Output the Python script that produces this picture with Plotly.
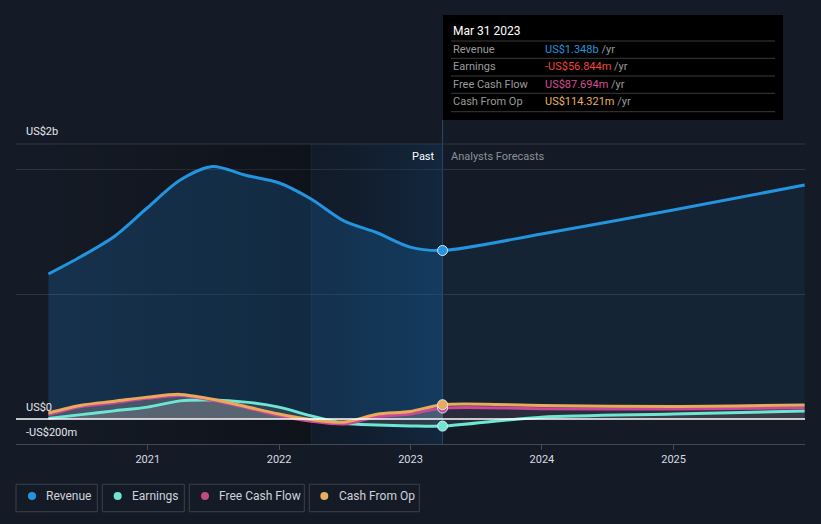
import plotly.graph_objects as go

# ---------------- data ----------------
past_dates = ['2020-03-31', '2020-06-30', '2020-09-30', '2020-12-31',
              '2021-03-31', '2021-06-30', '2021-09-30', '2021-12-31',
              '2022-03-31', '2022-06-30', '2022-09-30', '2022-12-31',
              '2023-03-31']
fc_dates = ['2023-03-31', '2023-12-31', '2024-12-31', '2025-12-31']

revenue_past = [1.16, 1.30, 1.46, 1.69, 1.91, 2.02, 1.95, 1.89, 1.76, 1.585, 1.49, 1.375, 1.348]
revenue_fc = [1.348, 1.48, 1.672, 1.872]

earnings_past = [5, 35, 65, 95, 145, 152, 135, 95, 25, -35, -48, -55, -56.844]   # US$m
earnings_fc = [-56.844, 15, 40, 64]

fcf_past = [35, 100, 130, 165, 188, 150, 92, 28, -18, -40, 18, 40, 87.694]
fcf_fc = [87.694, 83, 80, 90]

cfo_past = [48, 110, 142, 175, 197, 158, 100, 40, -5, -25, 38, 60, 114.321]
cfo_fc = [114.321, 108, 100, 112]

tick_years = ['2021', '2022', '2023', '2024', '2025']
highlight_date = '2023-03-31'
past_start = '2020-03-31'
blue_start = '2022-03-31'

C_REV = '#2394df'
C_EARN = '#6ee6d4'
C_FCF = '#c9489a'
C_CFO = '#e9aa5c'
BG = '#151b26'

# plot area in pixels
L, R, T, B = 16, 16, 144, 80
W, H = 821, 524
PW, PH = W - L - R, H - T - B


def px(xp):
    return (xp - L) / PW


def py(yp):
    return (H - B - yp) / PH


fig = go.Figure()

# background regions (gradient, translucent so gridlines show through)
fig.add_trace(go.Scatter(
    x=[past_start, blue_start, blue_start, past_start, past_start],
    y=[-0.2, -0.2, 2.2, 2.2, -0.2], mode='lines', line=dict(width=0),
    fill='toself', fillgradient=dict(type='horizontal',
                                     colorscale=[[0, 'rgba(0,0,0,0.02)'], [1, 'rgba(0,0,0,0.32)']]),
    hoverinfo='skip', showlegend=False))
fig.add_trace(go.Scatter(
    x=[blue_start, highlight_date, highlight_date, blue_start, blue_start],
    y=[-0.2, -0.2, 2.2, 2.2, -0.2], mode='lines', line=dict(width=0),
    fill='toself', fillgradient=dict(type='horizontal',
                                     colorscale=[[0, 'rgba(6,24,48,0.22)'], [1, 'rgba(14,60,100,0.38)']]),
    hoverinfo='skip', showlegend=False))


def m2b(vals):
    return [v / 1000 for v in vals]


# fills
fill_specs = [
    (past_dates, revenue_past, 'rgba(33,150,243,0.19)'),
    (fc_dates, revenue_fc, 'rgba(33,150,243,0.07)'),
    (past_dates, m2b(earnings_past), 'rgba(200,195,190,0.15)'),
    (fc_dates, m2b(earnings_fc), 'rgba(200,195,190,0.10)'),
    (past_dates, m2b(fcf_past), 'rgba(200,190,185,0.15)'),
    (fc_dates, m2b(fcf_fc), 'rgba(200,110,140,0.07)'),
    (past_dates, m2b(cfo_past), 'rgba(200,190,185,0.15)'),
    (fc_dates, m2b(cfo_fc), 'rgba(200,120,130,0.06)'),
]
for xs, ys, fc in fill_specs:
    fig.add_trace(go.Scatter(x=xs, y=ys, mode='lines', fill='tozeroy', fillcolor=fc,
                             line=dict(width=0, shape='spline', smoothing=0.8),
                             hoverinfo='skip', showlegend=False))

# lines
line_specs = [
    (m2b(earnings_past + earnings_fc[1:]), C_EARN),
    (m2b(fcf_past + fcf_fc[1:]), C_FCF),
    (m2b(cfo_past + cfo_fc[1:]), C_CFO),
    (revenue_past + revenue_fc[1:], C_REV),
]
all_dates = past_dates + fc_dates[1:]
for ys, c in line_specs:
    fig.add_trace(go.Scatter(x=all_dates, y=ys, mode='lines',
                             line=dict(color=c, width=3, shape='spline', smoothing=0.8),
                             hoverinfo='skip', showlegend=False))

# highlight markers
marker_specs = [
    (earnings_past[-1] / 1000, C_EARN),
    (fcf_past[-1] / 1000, C_FCF),
    (cfo_past[-1] / 1000, C_CFO),
    (revenue_past[-1], C_REV),
]
for yv, c in marker_specs:
    fig.add_trace(go.Scatter(x=[highlight_date], y=[yv], mode='markers',
                             marker=dict(color=c, size=10, line=dict(color='#dfe6ee', width=1)),
                             hoverinfo='skip', showlegend=False))

shapes = []
annotations = []

# top border gridline
shapes.append(dict(type='line', xref='paper', yref='paper', x0=0, x1=1, y0=1, y1=1,
                   line=dict(color='#2f3541', width=1), layer='above'))
# zero line (above)
shapes.append(dict(type='line', xref='paper', yref='y', x0=0, x1=1, y0=0, y1=0,
                   line=dict(color='#ffffff', width=1.5), layer='above'))
# vertical separators
shapes.append(dict(type='line', xref='x', yref='paper', x0=blue_start, x1=blue_start,
                   y0=0, y1=1, line=dict(color='#1e2c3c', width=1), layer='below'))
shapes.append(dict(type='line', xref='x', yref='paper', x0=highlight_date, x1=highlight_date,
                   y0=0, y1=py(120), line=dict(color='#2a4a68', width=1), layer='below'))

# tooltip box
shapes.append(dict(type='rect', xref='paper', yref='paper', x0=px(443), x1=px(783),
                   y0=py(120), y1=py(15), fillcolor='#000000', line=dict(width=0), layer='above'))
for sy in [41, 58.3, 76, 93.3, 111.7]:
    shapes.append(dict(type='line', xref='paper', yref='paper', x0=px(451), x1=px(775),
                       y0=py(sy), y1=py(sy), line=dict(color='#3a3a3a', width=1), layer='above'))

FONT = 'Roboto, Arial, sans-serif'
annotations.append(dict(xref='paper', yref='paper', x=px(451), y=py(30.7), text='Mar 31 2023',
                        showarrow=False, xanchor='left', yanchor='middle',
                        font=dict(family=FONT, size=12, color='#ffffff')))
rows = [
    ('Revenue', 'US$1.348b', C_REV, 49.3),
    ('Earnings', '-US$56.844m', '#f0443c', 66.7),
    ('Free Cash Flow', 'US$87.694m', '#d64e97', 84.3),
    ('Cash From Op', 'US$114.321m', '#e9b060', 101.7),
]
for lab, val, col, yy in rows:
    annotations.append(dict(xref='paper', yref='paper', x=px(451), y=py(yy), text=lab,
                            showarrow=False, xanchor='left', yanchor='middle',
                            font=dict(family=FONT, size=11, color='#9b9b9b')))
    annotations.append(dict(xref='paper', yref='paper', x=px(543), y=py(yy),
                            text=f"<span style='color:{col}'>{val}</span> /yr",
                            showarrow=False, xanchor='left', yanchor='middle',
                            font=dict(family=FONT, size=11, color='#9b9b9b')))

# Past / Analysts Forecasts
annotations.append(dict(xref='x', yref='paper', x=highlight_date, y=py(156), text='Past',
                        showarrow=False, xanchor='right', xshift=-6, yanchor='middle',
                        font=dict(family=FONT, size=11, color='#ffffff')))
annotations.append(dict(xref='x', yref='paper', x=highlight_date, y=py(156), text='Analysts Forecasts',
                        showarrow=False, xanchor='left', xshift=6, yanchor='middle',
                        font=dict(family=FONT, size=11, color='#8c9099')))

# y labels
for txt, yv, shift in [('US$2b', 2.2, 13), ('US$0', 0, 12), ('-US$200m', -0.2, 12)]:
    annotations.append(dict(xref='paper', yref='y', x=px(24), y=yv, yshift=shift, text=txt,
                            showarrow=False, xanchor='left', yanchor='middle',
                            font=dict(family=FONT, size=11, color='#e6e8ec')))

# legend boxes
legend_items = [
    ('Revenue', C_REV, 16, 97.3, 32, 44.3),
    ('Earnings', C_EARN, 102.3, 184.3, 117.7, 130),
    ('Free Cash Flow', '#c04a86', 189.3, 304.3, 205, 217),
    ('Cash From Op', '#e8ad63', 309.3, 419.3, 324.3, 337),
]
for name, col, bx0, bx1, dx, tx in legend_items:
    shapes.append(dict(type='rect', xref='paper', yref='paper', x0=px(bx0), x1=px(bx1),
                       y0=py(511.7), y1=py(484.3), line=dict(color='#3b404b', width=1),
                       fillcolor='rgba(0,0,0,0)'))
    shapes.append(dict(type='circle', xref='paper', yref='paper', xsizemode='pixel',
                       ysizemode='pixel', xanchor=px(dx), yanchor=py(496),
                       x0=-4, x1=4, y0=-4, y1=4, fillcolor=col, line=dict(width=0)))
    annotations.append(dict(xref='paper', yref='paper', x=px(tx), y=py(496), text=name,
                            showarrow=False, xanchor='left', yanchor='middle',
                            font=dict(family=FONT, size=12, color='#cfd3da')))

fig.update_layout(
    width=W, height=H, margin=dict(l=L, r=R, t=T, b=B),
    paper_bgcolor=BG, plot_bgcolor=BG,
    showlegend=False, shapes=shapes, annotations=annotations, hovermode=False,
    xaxis=dict(type='date', range=['2020-01-01', '2026-01-01'],
               tickvals=[f'{y}-01-01' for y in tick_years], ticktext=tick_years,
               showgrid=False, zeroline=False, showline=True, linecolor='#434955', linewidth=1,
               ticks='outside', ticklen=5, tickcolor='#434955',
               tickfont=dict(family=FONT, size=11, color='#d8dce3')),
    yaxis=dict(range=[-0.2, 2.2], tickvals=[1, 2], showticklabels=False,
               showgrid=True, gridcolor='#2f3541', gridwidth=1, zeroline=False,
               fixedrange=True),
)

fig.write_html('out.html', config={'displayModeBar': False},
               post_script="document.body.style.margin='0';document.body.style.padding='0';"
                           "document.body.style.background='#151b26';")
